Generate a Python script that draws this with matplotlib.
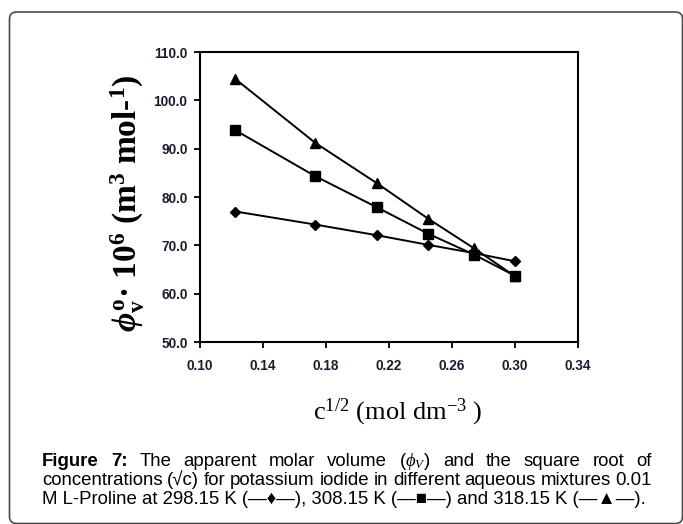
import matplotlib
matplotlib.use("Agg")
import matplotlib.pyplot as plt
from matplotlib import font_manager
from matplotlib.patches import FancyBboxPatch
from matplotlib.transforms import IdentityTransform
import numpy as np

# ---------------- data ----------------
sqrt_c = [0.1225, 0.1732, 0.2121, 0.2449, 0.2739, 0.3000]
phi_298 = [77.0, 74.3, 72.1, 70.1, 68.4, 66.7]
phi_308 = [93.8, 84.3, 77.9, 72.4, 68.1, 63.7]
phi_318 = [104.4, 91.2, 82.9, 75.5, 69.4, 63.6]
xticks = [0.10, 0.14, 0.18, 0.22, 0.26, 0.30, 0.34]
yticks = [50.0, 60.0, 70.0, 80.0, 90.0, 100.0, 110.0]

caption_lines = [
    [("Figure", "bold"), ("7:", "bold"), ("The", "normal"), ("apparent", "normal"),
     ("molar", "normal"), ("volume", "normal"), (r"($\mathsf{\phi}_{\mathsf{V}}$)", "normal"),
     ("and", "normal"), ("the", "normal"), ("square", "normal"), ("root", "normal"), ("of", "normal")],
    "concentrations (\u221ac) for potassium iodide in different aqueous mixtures 0.01",
    "M L-Proline at 298.15 K (\u2014\u2666\u2014), 308.15 K (\u2014\u25a0\u2014) and 318.15 K (\u2014\u25b2\u2014).",
]

# ---------------- style ----------------
plt.rcParams['mathtext.fontset'] = 'custom'
plt.rcParams['mathtext.rm'] = 'Liberation Serif'
plt.rcParams['mathtext.bf'] = 'Liberation Serif:bold'
plt.rcParams['mathtext.it'] = 'Liberation Serif:italic:bold'
plt.rcParams['mathtext.sf'] = 'Liberation Serif:italic'

names = {f.name for f in font_manager.fontManager.ttflist}
tick_family = 'Liberation Sans Narrow' if 'Liberation Sans Narrow' in names else 'Liberation Sans'
tick_size = 10.5 if tick_family == 'Liberation Sans Narrow' else 9.8

W, H = 683, 524
fig = plt.figure(figsize=(W / 100, H / 100), dpi=100)
fig.patch.set_facecolor('white')

# rounded border
border = FancyBboxPatch((9.5, 0.5), 673, 511.5, boxstyle='round,pad=0,rounding_size=7',
                        transform=IdentityTransform(), facecolor='none',
                        edgecolor='#4a4a4a', linewidth=1.2)
fig.patches.append(border)

ax = fig.add_axes([200 / W, 1 - 342 / H, 378 / W, 290 / H])
lw = 1.4
ax.plot(sqrt_c, phi_298, color='black', lw=lw, marker='D', ms=4.8, mfc='black', mec='black')
ax.plot(sqrt_c, phi_308, color='black', lw=lw, marker='s', ms=6.5, mfc='black', mec='black')
ax.plot(sqrt_c, phi_318, color='black', lw=lw, marker='^', ms=7, mfc='black', mec='black')

ax.set_xlim(0.10, 0.34)
ax.set_ylim(50, 110)
ax.set_xticks(xticks)
ax.set_yticks(yticks)
ax.set_xticklabels([f"{v:.2f}" for v in xticks])
ax.set_yticklabels([f"{v:.1f}" for v in yticks])
for s in ax.spines.values():
    s.set_linewidth(1.5)
    s.set_color('black')
ax.tick_params(axis='x', direction='out', length=4, width=1.3, pad=8)
ax.tick_params(axis='y', direction='out', length=4, width=1.3, pad=5)
for lab in ax.get_xticklabels() + ax.get_yticklabels():
    lab.set_fontfamily(tick_family)
    lab.set_fontweight('bold')
    lab.set_fontsize(tick_size)
    lab.set_color('#1c1c30')

# axis labels (as figure text for exact placement)
fig.text(128 / W, 1 - 203 / H,
         r'$\phi_{\mathbf{v}}^{\mathbf{o}}$' + '\u00b7 10' + r'$^{\mathbf{6}}$ (m$^{\mathbf{3}}$ mol-$^{\mathbf{1}}$)',
         rotation=90, ha='center', va='center', fontsize=24,
         fontfamily='Liberation Serif', fontweight='bold')
fig.text(398 / W, 1 - 412 / H, r'c$^{\mathrm{1/2}}$ (mol dm$^{\mathrm{-3}}$ )',
         ha='center', va='center', fontsize=19, fontfamily='Liberation Serif')

# ---------------- caption (justified) ----------------
renderer = fig.canvas.get_renderer()
fam = ['Liberation Sans', 'DejaVu Sans']
left_px, right_px = 42, 652
baselines = [465.5, 485.0, 504.5]

def px2fig(x, y):
    return x / W, 1 - y / H

# fit font size using last line
probe = fig.text(0, 0, caption_lines[2], fontsize=11, family=fam)
w = probe.get_window_extent(renderer).width
cap_size = 11 * (648 - left_px) / w
probe.remove()

def justify(tokens, ybase):
    texts = []
    for word, weight in tokens:
        t = fig.text(0, 0, word, fontsize=cap_size, family=fam, fontweight=weight,
                     ha='left', va='baseline')
        texts.append(t)
    widths = [t.get_window_extent(renderer).width for t in texts]
    gap = (right_px - left_px - sum(widths)) / (len(texts) - 1)
    x = left_px
    for t, wd in zip(texts, widths):
        t.set_position(px2fig(x, ybase))
        x += wd + gap

justify(caption_lines[0], baselines[0])
justify([(wd, 'normal') for wd in caption_lines[1].split(' ')], baselines[1])
fig.text(*px2fig(left_px, baselines[2]), caption_lines[2], fontsize=cap_size, family=fam,
         ha='left', va='baseline')

fig.savefig('out.png', dpi=100, facecolor='white')
